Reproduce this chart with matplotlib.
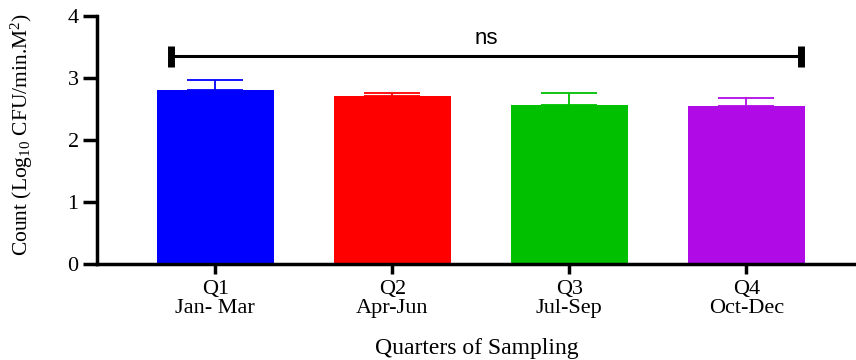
import numpy as np
import matplotlib
matplotlib.use("Agg")
import matplotlib.pyplot as plt

# Data
quarters = ["Q1\nJan- Mar", "Q2\nApr-Jun", "Q3\nJul-Sep", "Q4\nOct-Dec"]
means = [2.81, 2.70, 2.56, 2.55]
errors = [0.15, 0.06, 0.20, 0.12]
colors = ["#0000ff", "#ff0000", "#00c000", "#b00ae6"]
sig_label = "ns"
sig_y = 3.35

plt.rcParams['font.family'] = ['Liberation Serif', 'DejaVu Serif']
plt.rcParams['mathtext.fontset'] = 'custom'
plt.rcParams['mathtext.rm'] = 'Liberation Serif'
plt.rcParams['mathtext.it'] = 'Liberation Serif:italic'

fig = plt.figure(figsize=(8.56, 3.6), dpi=100)
ax = fig.add_axes([0.113, 0.268, 0.887, 0.688])

x = np.arange(len(quarters))
ax.bar(x, means, width=0.66, color=colors, zorder=2)
for xi, m, e, c in zip(x, means, errors, colors):
    ax.errorbar(xi, m, yerr=[[0], [e]], color=c, capsize=20, capthick=1.3,
                elinewidth=1.3, zorder=3)

# significance bracket
x0, x1 = -0.25, 3.31
ax.plot([x0, x1], [sig_y, sig_y], color='black', lw=2.2, solid_capstyle='butt', zorder=4)
for xe in (x0, x1):
    ax.plot([xe, xe], [sig_y - 0.17, sig_y + 0.17], color='black', lw=5,
            solid_capstyle='butt', zorder=4)
ax.text((x0 + x1) / 2, sig_y + 0.12, sig_label, ha='center', va='bottom',
        fontsize=16, family='Liberation Sans')

ax.set_xlim(-0.67, 3.62)
ax.set_ylim(0, 4)
ax.set_yticks([0, 1, 2, 3, 4])
ax.set_xticks(x)
ax.set_xticklabels(quarters, fontsize=16, linespacing=1.0)
ax.tick_params(axis='y', labelsize=16, length=10, width=2.5, pad=3)
ax.tick_params(axis='x', length=7, width=2.5, pad=5)

for side in ('top', 'right'):
    ax.spines[side].set_visible(False)
for side in ('left', 'bottom'):
    ax.spines[side].set_linewidth(2.5)

ax.set_ylabel('Count (Log$_{10}$ CFU/min.M$^{2}$)', fontsize=15.5)
ax.yaxis.set_label_coords(-0.081, 0.52)
ax.set_xlabel('Quarters of Sampling', fontsize=17, labelpad=14)

fig.savefig('out.png', dpi=100)
